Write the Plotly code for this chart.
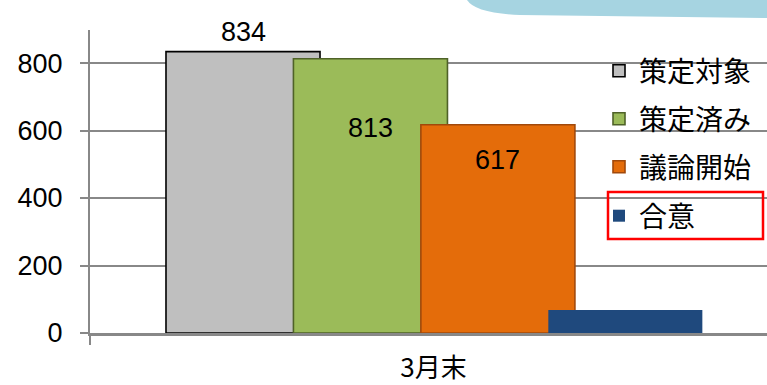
import plotly.graph_objects as go

# --- data ---------------------------------------------------------------
category = ["3月末"]
series_names = ["策定対象", "策定済み", "議論開始", "合意"]
series_values = [834, 813, 617, 68]
labelled = [True, True, True, False]  # the last series carries no value label
y_ticks = [0, 200, 400, 600, 800]

# --- style --------------------------------------------------------------
fills = ["#BFBFBF", "#9BBB59", "#E46C0A", "#1F497D"]
edges = ["#000000", "#4F6228", "#A1490B", "#1F497D"]
edge_w = [1.6, 1.6, 1.6, 0]
label_shift = [20, -69, -35, 0]

W, H = 767, 385
ML, MR, MT, MB = 90, 0, 30, 52
plot_w, plot_h = W - ML - MR, H - MT - MB

# bars are wide and overlap each other, stepping right inside one category
bar_w = 0.2242
first_off = -0.3894
step = 0.1855

num_font = "Liberation Sans, Arial, Noto Sans CJK JP"
cjk_font = "Noto Sans CJK JP, Liberation Sans"

fig = go.Figure()
legend_ids = ["legend", "legend2", "legend3", "legend4"]
for i, (name, val) in enumerate(zip(series_names, series_values)):
    fig.add_trace(go.Bar(
        x=category, y=[val], name=name,
        width=bar_w, offset=first_off + i * step,
        marker=dict(color=fills[i], line=dict(color=edges[i], width=edge_w[i])),
        legend=legend_ids[i],
        hoverinfo="skip",
    ))
    if labelled[i]:
        fig.add_annotation(
            x=first_off + i * step + bar_w / 2, xref="x",
            y=val, yref="y", yanchor="middle", yshift=label_shift[i],
            text=str(val), showarrow=False,
            font=dict(family=num_font, size=27, color="#000000"),
        )


def px_x(px):
    return (px - ML) / plot_w


def px_y(py):
    return (H - MB - py) / plot_h


# light-blue callout edge along the top right
fig.add_shape(
    type="path", xref="paper", yref="paper", layer="above",
    path=(f"M {px_x(466)},{px_y(-2)} "
          f"Q {px_x(472)},{px_y(13)} {px_x(520)},{px_y(15)} "
          f"L {px_x(770)},{px_y(18)} L {px_x(770)},{px_y(-2)} Z"),
    fillcolor="#A6D4E1", line=dict(width=0),
)

# legend panel background hides the gridlines on the right
fig.add_shape(
    type="rect", xref="paper", yref="paper", layer="between",
    x0=px_x(598), x1=px_x(770), y0=px_y(329), y1=px_y(25),
    fillcolor="#FFFFFF", line=dict(width=0),
)

# red frame around the last legend entry
fig.add_shape(
    type="rect", xref="paper", yref="paper", layer="above",
    x0=px_x(608), x1=px_x(763), y0=px_y(239), y1=px_y(192),
    fillcolor="rgba(0,0,0,0)", line=dict(color="#FF0000", width=2.5),
)

legend_centers = [71, 119, 167, 216]
legend_x = 599
layout_legends = {}
for lid, cy in zip(legend_ids, legend_centers):
    layout_legends[lid] = dict(
        xref="paper", yref="paper",
        x=px_x(legend_x), y=px_y(cy), xanchor="left", yanchor="middle",
        bgcolor="rgba(0,0,0,0)", borderwidth=0,
        font=dict(family=cjk_font, size=28, color="#000000"),
        itemclick=False, itemdoubleclick=False,
    )

fig.update_layout(
    width=W, height=H,
    margin=dict(l=ML, r=MR, t=MT, b=MB, pad=0, autoexpand=False),
    paper_bgcolor="#FFFFFF", plot_bgcolor="#FFFFFF",
    barmode="overlay",
    showlegend=True,
    **layout_legends,
    xaxis=dict(
        type="category", range=[-0.5, 0.4854],
        showline=True, linecolor="#888888", linewidth=3,
        ticks="outside", tickson="boundaries", ticklen=9, tickcolor="#888888", tickwidth=2,
        showgrid=False, zeroline=False,
        tickfont=dict(family=cjk_font, size=26, color="#000000"),
        ticklabelstandoff=10,
    ),
    yaxis=dict(
        range=[0, 898], tickvals=y_ticks,
        showline=True, linecolor="#888888", linewidth=2,
        ticks="outside", ticklen=8, tickcolor="#888888", tickwidth=2,
        showgrid=True, gridcolor="#888888", gridwidth=2,
        zeroline=False,
        tickfont=dict(family=num_font, size=27, color="#000000"),
        ticklabelstandoff=12,
    ),
)

fig.write_html("out.html")
